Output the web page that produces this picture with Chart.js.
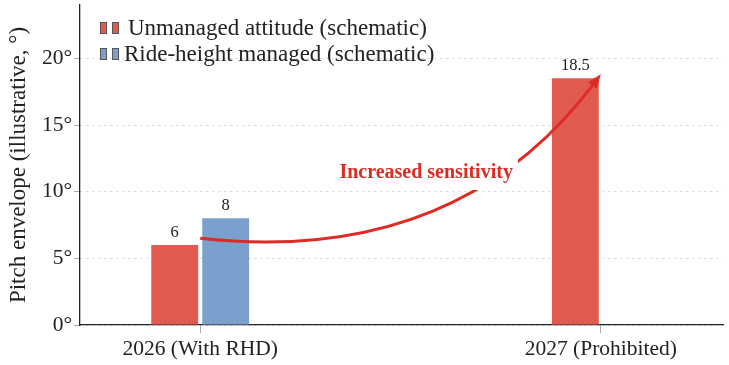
<!DOCTYPE html>
<html><head><meta charset="utf-8">
<script src="https://cdn.jsdelivr.net/npm/chart.js@4/dist/chart.umd.min.js"></script>
<style>html,body{margin:0;padding:0;background:#fff}#wrap{width:729px;height:365px;position:relative}</style>
</head><body><div id="wrap"><canvas id="c"></canvas></div>
<script>
const categories = ['2026 (With RHD)', '2027 (Prohibited)'];
const unmanaged = [6, 18.5];
const managed = [8, null];
const yTicks = [0, 5, 10, 15, 20];
const seriesNames = ['Unmanaged attitude (schematic)', 'Ride-height managed (schematic)'];
const arrowStart = [0, 6.5];
const arrowControl = [0.64, 4.4];
const arrowEnd = [1.0, 18.8];
const annotationText = 'Increased sensitivity';
const annotationPos = [0.564, 11.4];

const RED = '#E15A50', BLUE = '#7BA0CD', ARROW = '#DD2C25';
const SERIF = '"Liberation Serif", "DejaVu Serif", serif';

const overlay = {
  id: 'overlay',
  afterDatasetsDraw(chart) {
    const ctx = chart.ctx, xs = chart.scales.x, ys = chart.scales.y;
    ctx.save();
    ctx.font = '16.5px ' + SERIF; ctx.fillStyle = '#222'; ctx.textAlign = 'center'; ctx.textBaseline = 'alphabetic';
    chart.data.datasets.forEach((ds, di) => {
      const meta = chart.getDatasetMeta(di);
      meta.data.forEach((el, i) => {
        const v = ds.data[i].y; if (v == null) return;
        ctx.fillText(String(v), el.x, el.y - 8.5);
      });
    });
    const p0 = [xs.getPixelForValue(arrowStart[0]), ys.getPixelForValue(arrowStart[1])];
    const p1 = [xs.getPixelForValue(arrowControl[0]), ys.getPixelForValue(arrowControl[1])];
    const p2 = [xs.getPixelForValue(arrowEnd[0]), ys.getPixelForValue(arrowEnd[1])];
    const ang = Math.atan2(p2[1] - p1[1], p2[0] - p1[0]);
    const hl = 14, hw = 5.5;
    const tip = p2;
    const baseX = tip[0] - hl * Math.cos(ang), baseY = tip[1] - hl * Math.sin(ang);
    ctx.strokeStyle = ARROW; ctx.fillStyle = ARROW; ctx.lineWidth = 3; ctx.lineCap = 'butt';
    ctx.beginPath(); ctx.moveTo(p0[0], p0[1]);
    const e = [tip[0] - (hl - 3) * Math.cos(ang), tip[1] - (hl - 3) * Math.sin(ang)];
    ctx.quadraticCurveTo(p1[0], p1[1], e[0], e[1]); ctx.stroke();
    ctx.beginPath(); ctx.moveTo(tip[0], tip[1]);
    ctx.lineTo(baseX + hw * Math.sin(ang), baseY - hw * Math.cos(ang));
    ctx.lineTo(baseX - hw * Math.sin(ang), baseY + hw * Math.cos(ang));
    ctx.closePath(); ctx.fill();
    const tx = xs.getPixelForValue(annotationPos[0]), ty = ys.getPixelForValue(annotationPos[1]);
    ctx.font = 'bold 20px ' + SERIF;
    const w = ctx.measureText(annotationText).width;
    ctx.fillStyle = '#fff'; ctx.fillRect(tx - w / 2 - 5, ty - 17, w + 10, 34);
    ctx.fillStyle = ARROW; ctx.textAlign = 'center'; ctx.textBaseline = 'middle';
    ctx.fillText(annotationText, tx, ty);
    const rows = [[RED, seriesNames[0], 22, 128], [BLUE, seriesNames[1], 48, 124]];
    ctx.font = '23px ' + SERIF; ctx.textAlign = 'left'; ctx.textBaseline = 'alphabetic';
    rows.forEach(([col, label, y, tx0]) => {
      ctx.fillStyle = col; ctx.strokeStyle = '#555'; ctx.lineWidth = 1;
      [100.5, 112.5].forEach(x => { ctx.fillRect(x, y + 0.5, 6, 11); ctx.strokeRect(x, y + 0.5, 6, 11); });
      ctx.fillStyle = '#222';
      ctx.fillText(label, tx0, y + 13);
    });
    ctx.restore();
  }
};

new Chart(document.getElementById('c'), {
  type: 'bar',
  data: {
    datasets: [
      { label: seriesNames[0], data: categories.map((c, i) => ({ x: i, y: unmanaged[i] })), backgroundColor: RED },
      { label: seriesNames[1], data: categories.map((c, i) => ({ x: i, y: managed[i] })), backgroundColor: BLUE }
    ]
  },
  options: {
    responsive: true, maintainAspectRatio: false, animation: false,
    categoryPercentage: 0.2544, barPercentage: 0.92,
    layout: { padding: { left: 0, right: 6, top: 0, bottom: 0 } },
    plugins: { legend: { display: false }, tooltip: { enabled: false } },
    scales: {
      x: {
        type: 'linear', min: -0.3, max: 1.305, offset: false,
        afterBuildTicks: s => { s.ticks = categories.map((c, i) => ({ value: i })); },
        afterFit: s => { s.height = 40; },
        ticks: { callback: (v) => categories[v], color: '#222', font: { family: SERIF, size: 21.5 }, padding: 3, maxRotation: 0, autoSkip: false },
        grid: { display: true, offset: false, drawOnChartArea: false, drawTicks: true, tickLength: 8, tickColor: '#aaa', color: '#aaa' },
        border: { display: true, color: '#222', width: 1.3 }
      },
      y: {
        min: 0, max: 24,
        afterBuildTicks: s => { s.ticks = yTicks.map(v => ({ value: v })); },
        afterFit: s => { s.width = 80; },
        ticks: { callback: v => v + '°', color: '#222', font: { family: SERIF, size: 21.5, lineHeight: 0.28 }, padding: 2 },
        grid: { color: '#d4d4d4', lineWidth: 1, tickLength: 6, tickColor: '#aaa', drawTicks: true },
        border: { display: true, color: '#222', width: 1.3, dash: [2, 4] },
        title: { display: true, text: 'Pitch envelope (illustrative, °)', color: '#222', font: { family: SERIF, size: 23 }, padding: { top: 5, bottom: 0 } }
      }
    }
  },
  plugins: [overlay]
});
</script></body></html>
